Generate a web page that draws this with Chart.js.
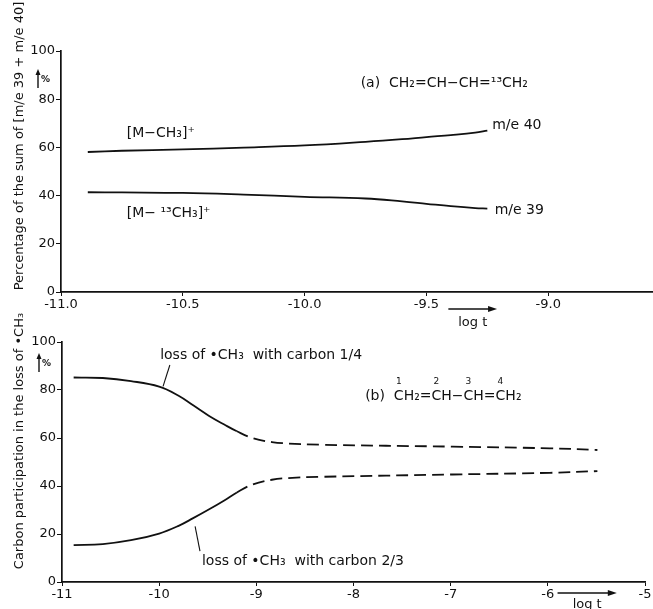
<!DOCTYPE html>
<html>
<head>
<meta charset="utf-8">
<script src="https://cdn.jsdelivr.net/npm/chart.js@4"></script>
<style>
  html, body { margin: 0; padding: 0; background: #fff; }
  #wrap { position: relative; width: 653px; height: 609px; overflow: hidden; }
  canvas { position: absolute; left: 0; }
  #chartA { top: 0; }
  #chartB { top: 310px; }
</style>
</head>
<body>
<div id="wrap">
  <canvas id="chartA" width="653" height="330"></canvas>
  <canvas id="chartB" width="653" height="299"></canvas>
</div>
<script>
// --- datos ---
// (a) CH2=CH-CH=13CH2
const logTA = [-10.89, -10.75, -10.5, -10.25, -10.0, -9.75, -9.6, -9.5, -9.4, -9.3, -9.25];
const me40 = [58.1, 58.6, 59.2, 59.9, 60.8, 62.3, 63.4, 64.3, 65.1, 66.1, 67.0];
const me39 = [41.4, 41.3, 41.1, 40.4, 39.5, 38.8, 37.6, 36.6, 35.6, 34.8, 34.6];
const ticksA_x = [-11.0, -10.5, -10.0, -9.5, -9.0];

// (b) CH2=CH-CH=CH2, perdida de CH3 con carbono 1/4 y 2/3
const logTB = [-10.88, -10.58, -10.29, -10.0, -9.8, -9.65, -9.49, -9.33, -9.2, -9.04, -8.84, -8.67, -8.35, -6.98, -5.98, -5.49];
const carbon14 = [85.2, 85.0, 83.7, 81.4, 77.6, 73.6, 69.3, 65.6, 62.8, 60.0, 58.3, 57.7, 57.2, 56.4, 55.7, 55.0];
const carbon23 = [15.4, 15.8, 17.4, 20.2, 23.4, 26.6, 30.2, 34.0, 37.3, 40.6, 42.6, 43.3, 43.8, 44.8, 45.5, 46.2];
const ticksB_x = [-11, -10, -9, -8, -7, -6, -5];
const ticksY = [0, 20, 40, 60, 80, 100];
const dashFrom = -9.25; // a partir de aqui la curva es discontinua

const FONT = '"DejaVu Sans", sans-serif';
const INK = '#111';

Chart.defaults.color = INK;
Chart.defaults.font.family = FONT;
Chart.defaults.font.size = 12;

const toXY = (xs, ys) => xs.map((x, i) => ({ x: x, y: ys[i] }));

// Plugin para textos, flechas "log t" y titulos de ejes
const notesPlugin = {
    id: 'notes',
    afterDraw(chart, args, opts) {
        const ctx = chart.ctx;
        const xs = chart.scales.x, ys = chart.scales.y;
        const area = chart.chartArea;
        ctx.save();
        ctx.fillStyle = INK;
        ctx.strokeStyle = INK;

        // titulo del eje y (rotado)
        ctx.save();
        ctx.font = '13px ' + FONT;
        ctx.translate(opts.yTitleX, opts.yTitleY);
        ctx.rotate(-Math.PI / 2);
        ctx.textAlign = 'center';
        ctx.textBaseline = 'middle';
        ctx.fillText(opts.yTitle, 0, 0);
        ctx.restore();

        // flecha "↑ %"
        ctx.lineWidth = 1.4;
        ctx.beginPath();
        ctx.moveTo(opts.pctX, opts.pctY + 9);
        ctx.lineTo(opts.pctX, opts.pctY - 6);
        ctx.stroke();
        ctx.beginPath();
        ctx.moveTo(opts.pctX, opts.pctY - 10);
        ctx.lineTo(opts.pctX - 2.5, opts.pctY - 4);
        ctx.lineTo(opts.pctX + 2.5, opts.pctY - 4);
        ctx.closePath();
        ctx.fill();
        ctx.font = 'bold 9px ' + FONT;
        ctx.textAlign = 'left';
        ctx.textBaseline = 'middle';
        ctx.fillText('%', opts.pctX + 3, opts.pctY + 1);

        // flecha "log t"
        const a0 = xs.getPixelForValue(opts.logArrow[0]);
        const a1 = xs.getPixelForValue(opts.logArrow[1]);
        const ay = area.bottom + opts.logArrowDy;
        ctx.lineWidth = 1.6;
        ctx.beginPath();
        ctx.moveTo(a0, ay);
        ctx.lineTo(a1 - 7, ay);
        ctx.stroke();
        ctx.beginPath();
        ctx.moveTo(a1, ay);
        ctx.lineTo(a1 - 9, ay - 3);
        ctx.lineTo(a1 - 9, ay + 3);
        ctx.closePath();
        ctx.fill();
        ctx.font = '13px ' + FONT;
        ctx.textAlign = 'center';
        ctx.textBaseline = 'middle';
        ctx.fillText('log t', (a0 + a1) / 2, area.bottom + opts.logTextDy);

        // textos sobre el grafico (en coordenadas de datos)
        ctx.textAlign = 'left';
        ctx.textBaseline = 'middle';
        (opts.labels || []).forEach(l => {
            ctx.font = '14px ' + FONT;
            const px = xs.getPixelForValue(l.x), py = ys.getPixelForValue(l.y);
            ctx.fillText(l.text, px, py);
            if (l.nums) {
                // numeros de los carbonos encima de cada C
                const cw = ctx.measureText('C').width;
                const offs = l.carbonIdx.map(k => ctx.measureText(l.text.slice(0, k)).width);
                ctx.font = '9px ' + FONT;
                ctx.textAlign = 'center';
                l.nums.forEach((n, i) => {
                    ctx.fillText(n, px + offs[i] + cw * 0.5, py - 15);
                });
                ctx.textAlign = 'left';
            }
        });

        // lineas de referencia
        ctx.lineWidth = 1.1;
        (opts.leaders || []).forEach(s => {
            ctx.beginPath();
            ctx.moveTo(xs.getPixelForValue(s[0]), ys.getPixelForValue(s[1]));
            ctx.lineTo(xs.getPixelForValue(s[2]), ys.getPixelForValue(s[3]));
            ctx.stroke();
        });
        ctx.restore();
    }
};

function lineSet(data, dashed) {
    return {
        data: data,
        borderColor: INK,
        borderWidth: 1.8,
        pointRadius: 0,
        fill: false,
        tension: 0.4,
        segment: dashed ? {
            borderDash: c => c.p0.parsed.x >= dashFrom ? [12, 6] : undefined
        } : undefined
    };
}

function axisOpts(min, max, tickVals, fmt, sizeFix) {
    return {
        x: {
            type: 'linear', min: min, max: max,
            afterBuildTicks: s => { s.ticks = tickVals.map(v => ({ value: v })); },
            afterFit: s => { s.height = sizeFix.h; },
            ticks: { callback: fmt, maxRotation: 0, padding: 1, font: { size: 13 } },
            grid: { display: true, drawOnChartArea: false, tickLength: 4, color: INK, lineWidth: 1 },
            border: { display: true, color: INK, width: 1.7 }
        },
        y: {
            type: 'linear', min: 0, max: 100,
            afterBuildTicks: s => { s.ticks = ticksY.map(v => ({ value: v })); },
            afterFit: s => { s.width = sizeFix.w; },
            ticks: { padding: 1, font: { size: 13 } },
            grid: { display: true, drawOnChartArea: false, tickLength: 5, color: INK, lineWidth: 1 },
            border: { display: true, color: INK, width: 1.7 }
        }
    };
}

// --- (a) grafico superior ---
new Chart(document.getElementById('chartA'), {
    type: 'line',
    data: { datasets: [lineSet(toXY(logTA, me40), false), lineSet(toXY(logTA, me39), false)] },
    options: {
        responsive: false,
        animation: false,
        layout: { padding: { top: 51, right: 0, bottom: 0, left: 0 } },
        plugins: {
            legend: { display: false },
            tooltip: { enabled: false },
            notes: {
                yTitle: 'Percentage of the sum of [m/e 39 + m/e 40]',
                yTitleX: 20, yTitleY: 146,
                pctX: 38, pctY: 79,
                logArrow: [-9.41, -9.21], logArrowDy: 17, logTextDy: 31,
                labels: [
                    { text: '[M\u2212CH\u2083]\u207A', x: -10.73, y: 65.8 },
                    { text: '[M\u2212 \u00B9\u00B3CH\u2083]\u207A', x: -10.73, y: 32.8 },
                    { text: 'm/e 40', x: -9.23, y: 69.2 },
                    { text: 'm/e 39', x: -9.22, y: 34 },
                    { text: '(a)  CH\u2082=CH\u2212CH=\u00B9\u00B3CH\u2082', x: -9.77, y: 86.7 }
                ]
            }
        },
        scales: axisOpts(-11.0, -8.57, ticksA_x, v => v.toFixed(1), { h: 38, w: 61 })
    },
    plugins: [notesPlugin]
});

// --- (b) grafico inferior ---
new Chart(document.getElementById('chartB'), {
    type: 'line',
    data: { datasets: [lineSet(toXY(logTB, carbon14), true), lineSet(toXY(logTB, carbon23), true)] },
    options: {
        responsive: false,
        animation: false,
        layout: { padding: { top: 32, right: 8, bottom: 0, left: 0 } },
        plugins: {
            legend: { display: false },
            tooltip: { enabled: false },
            notes: {
                yTitle: 'Carbon participation in the loss of \u2022CH\u2083',
                yTitleX: 20, yTitleY: 131,
                pctX: 39, pctY: 53,
                logArrow: [-5.90, -5.29], logArrowDy: 11, logTextDy: 23,
                labels: [
                    { text: 'loss of \u2022CH\u2083  with carbon 1/4', x: -9.99, y: 94.6 },
                    { text: '(b)  CH\u2082=CH\u2212CH=CH\u2082', x: -7.88, y: 77.2,
                      nums: ['1', '2', '3', '4'], carbonIdx: [5, 9, 12, 15] },
                    { text: 'loss of \u2022CH\u2083  with carbon 2/3', x: -9.56, y: 8.7 }
                ],
                leaders: [[-9.89, 90.4, -9.96, 81.5], [-9.63, 23.2, -9.58, 12.9]]
            }
        },
        scales: axisOpts(-11, -5, ticksB_x, v => String(v), { h: 27, w: 62 })
    },
    plugins: [notesPlugin]
});
</script>
</body>
</html>
